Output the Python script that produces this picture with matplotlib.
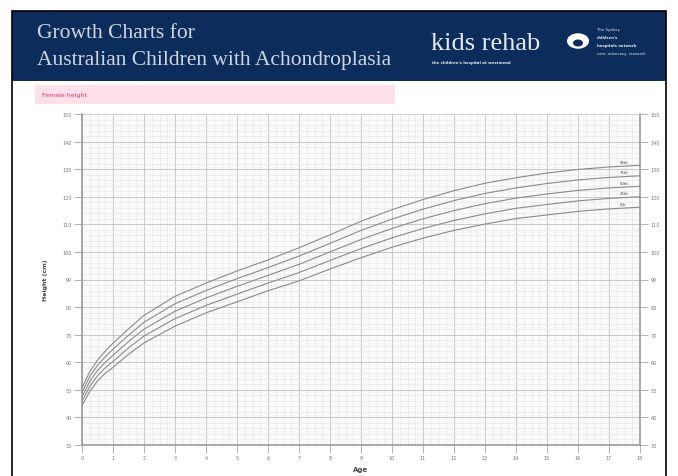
import matplotlib
matplotlib.use("Agg")
import matplotlib.pyplot as plt
from matplotlib.patches import Rectangle, Circle
from matplotlib.ticker import MultipleLocator

W, H = 678, 477

# Data (age in years, height in cm)
ages = [0, 0.25, 0.5, 0.75, 1, 1.5, 2, 3, 4, 5, 6, 7, 8, 9, 10, 11, 12, 13, 14, 15, 16, 17, 18]
p_top = [50.7, 56.6, 60.8, 64.0, 66.9, 72.1, 77.0, 83.9, 88.7, 93.1, 97.1, 101.5, 106.2,
         111.1, 115.3, 119.0, 122.2, 124.9, 126.9, 128.6, 129.9, 130.8, 131.4]
p_upper = [49.1, 54.8, 58.9, 62.0, 64.7, 69.8, 74.5, 81.2, 86.0, 90.3, 94.3, 98.5, 103.1,
           107.8, 111.9, 115.5, 118.6, 121.2, 123.2, 124.8, 126.1, 127.0, 127.6]
p_mid = [47.5, 53.0, 57.0, 60.0, 62.5, 67.5, 72.0, 78.5, 83.3, 87.5, 91.5, 95.5, 100.0,
         104.5, 108.5, 112.0, 115.0, 117.5, 119.5, 121.0, 122.3, 123.2, 123.8]
p_lower = [45.9, 51.2, 55.1, 58.0, 60.3, 65.2, 69.5, 75.8, 80.6, 84.7, 88.7, 92.5, 96.9,
           101.2, 105.1, 108.5, 111.4, 113.8, 115.8, 117.2, 118.5, 119.4, 120.0]
p_bottom = [44.3, 49.4, 53.2, 56.0, 58.1, 62.9, 67.0, 73.1, 77.9, 81.9, 85.9, 89.5, 93.8,
            97.9, 101.7, 105.0, 107.8, 110.1, 112.1, 113.4, 114.7, 115.6, 116.2]
series = [p_top, p_upper, p_mid, p_lower, p_bottom]
series_labels = ["95th", "75th", "50th", "25th", "5th"]

x_ticks = list(range(0, 19))
y_ticks = list(range(30, 151, 10))

NAVY = "#0c2d5c"


def fx(x):
    return x / W


def fy(y):
    return 1 - y / H


fig = plt.figure(figsize=(W / 100, H / 100), dpi=100)
fig.patch.set_facecolor("white")

# Header band and outer frame
fig.patches.append(Rectangle((fx(12), fy(500)), fx(654), fy(12) - fy(500), transform=fig.transFigure,
                             facecolor="none", edgecolor="black", linewidth=1.2, zorder=5))
fig.patches.append(Rectangle((fx(12), fy(82)), fx(654), fy(12) - fy(82), transform=fig.transFigure,
                             facecolor=NAVY, edgecolor="none", zorder=1))
fig.text(fx(37), fy(33), "Growth Charts for", family="Liberation Serif", fontsize=15.5,
         color="#cfd5df", va="center")
fig.text(fx(37), fy(60), "Australian Children with Achondroplasia", family="Liberation Serif",
         fontsize=15.5, color="#cfd5df", va="center")
fig.text(fx(431), fy(44), "kids rehab", family="Liberation Serif", fontsize=19,
         color="#e6e9ef", va="center")
fig.text(fx(432), fy(63), "the children's hospital at westmead", family="DejaVu Sans",
         fontsize=2.8, color="#e6e9ef", va="center", weight="bold")
fig.patches.append(Circle((fx(578), fy(42)), 11 / W, transform=fig.transFigure,
                          facecolor="white", edgecolor="none", zorder=2))
fig.patches.append(Circle((fx(578), fy(44)), 5 / W, transform=fig.transFigure,
                          facecolor=NAVY, edgecolor="none", zorder=3))
for i, line in enumerate(["The Sydney", "children's", "hospitals network", "care, advocacy, research"]):
    fig.text(fx(597), fy(30 + i * 8), line, family="DejaVu Sans", fontsize=2.8,
             color="#e6e9ef", va="center", weight="bold" if i in (1, 2) else "normal")

# Pink sub-title band
fig.patches.append(Rectangle((fx(35), fy(105)), fx(395) - fx(35), fy(86) - fy(105),
                             transform=fig.transFigure, facecolor="#fde0e9", edgecolor="none"))
fig.text(fx(42), fy(95), "Female height", fontsize=4.5, color="#d6336c", va="center")

# Chart
ax = fig.add_axes([fx(82), fy(446), fx(640) - fx(82), fy(115) - fy(446)])
ax.set_facecolor("#fbfafb")
for a, vals in enumerate(series):
    ax.plot(ages, vals, color="#8a8a8a", linewidth=0.8, zorder=3, solid_joinstyle="round")
    ax.text(17.35, vals[-1] + 0.6, series_labels[a], fontsize=2.8, color="#444444",
            ha="left", va="bottom", zorder=4)

ax.set_xlim(0, 18)
ax.set_ylim(30, 150)
ax.set_xticks(x_ticks)
ax.set_yticks(y_ticks)
ax.xaxis.set_minor_locator(MultipleLocator(0.25))
ax.yaxis.set_minor_locator(MultipleLocator(2))
ax.grid(which="major", color="#c8c8c8", linewidth=0.7)
ax.grid(which="minor", color="#ebe0e4", linewidth=0.4)
ax.set_axisbelow(True)
ax.spines["top"].set_color("#d0d0d0")
ax.spines["top"].set_linewidth(0.6)
for side in ["left", "right", "bottom"]:
    ax.spines[side].set_color("#9a9a9a")
    ax.spines[side].set_linewidth(1.2)
ax.tick_params(which="major", labelsize=3.5, labelcolor="#777777", color="#b0b0b0",
               length=6, width=0.7, pad=1.5, right=True, labelright=True)
ax.tick_params(which="minor", length=0)
ax.set_xlabel("Age", fontsize=5, color="#444444", weight="bold", labelpad=4)
ax.set_ylabel("Height (cm)", fontsize=4.5, color="#444444", weight="bold", labelpad=10)

plt.savefig("out.png", dpi=100)
